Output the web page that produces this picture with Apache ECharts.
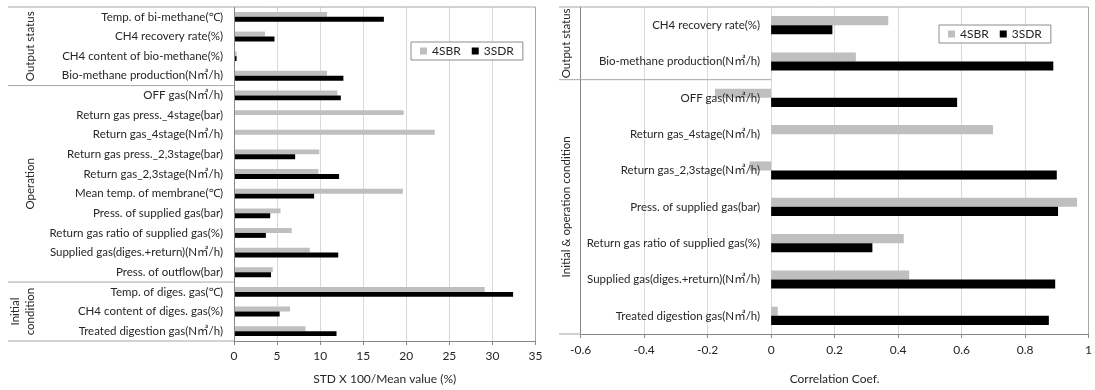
<!DOCTYPE html>
<html>
<head>
<meta charset="utf-8">
<script src="https://cdn.jsdelivr.net/npm/echarts@6/dist/echarts.min.js"></script>
<style>
html,body{margin:0;padding:0;background:#fff;}
#c{width:1095px;height:390px;}
</style>
</head>
<body>
<div id="c"></div>
<script>
// ---------- data ----------
const seriesNames = ['4SBR', '3SDR'];

const leftCats = [
  'Temp. of bi-methane(℃)',
  'CH4 recovery rate(%)',
  'CH4 content of bio-methane(%)',
  'Bio-methane production(N㎥/h)',
  'OFF gas(N㎥/h)',
  'Return gas press._4stage(bar)',
  'Return gas_4stage(N㎥/h)',
  'Return gas press._2,3stage(bar)',
  'Return gas_2,3stage(N㎥/h)',
  'Mean temp. of membrane(℃)',
  'Press. of supplied gas(bar)',
  'Return gas ratio of supplied gas(%)',
  'Supplied gas(diges.+return)(N㎥/h)',
  'Press. of outflow(bar)',
  'Temp. of diges. gas(℃)',
  'CH4 content of diges. gas(%)',
  'Treated digestion gas(N㎥/h)'
];
const leftSBR = [10.8, 3.6, 0.3, 10.8, 12.0, 19.7, 23.3, 9.9, 9.8, 19.6, 5.4, 6.7, 8.8, 4.5, 29.1, 6.5, 8.3];
const leftSDR = [17.4, 4.7, 0.3, 12.7, 12.4, 0, 0, 7.1, 12.2, 9.3, 4.2, 3.7, 12.1, 4.3, 32.4, 5.3, 11.9];
const leftGroups = [
  {text: 'Output status', from: 0, to: 3},
  {text: 'Operation', from: 4, to: 13},
  {text: 'Initial\ncondition', from: 14, to: 16}
];
const leftAxisName = 'STD X 100/Mean value (%)';

const rightCats = [
  'CH4 recovery rate(%)',
  'Bio-methane production(N㎥/h)',
  'OFF gas(N㎥/h)',
  'Return gas_4stage(N㎥/h)',
  'Return gas_2,3stage(N㎥/h)',
  'Press. of supplied gas(bar)',
  'Return gas ratio of supplied gas(%)',
  'Supplied gas(diges.+return)(N㎥/h)',
  'Treated digestion gas(N㎥/h)'
];
const rightSBR = [0.369, 0.267, -0.177, 0.699, -0.068, 0.964, 0.418, 0.435, 0.021];
const rightSDR = [0.193, 0.889, 0.586, 0, 0.900, 0.904, 0.319, 0.895, 0.875];
const rightGroups = [
  {text: 'Output status', from: 0, to: 1},
  {text: 'Initial & operation condition', from: 2, to: 8}
];
const rightAxisName = 'Correlation Coef.';

// ---------- chart ----------
const FONT = 'Lato, "Noto Sans", "Noto Sans CJK JP", sans-serif';
const TXT = '#262626';
const FRAME = '#a6a6a6';
const chart = echarts.init(document.getElementById('c'), null, {renderer: 'canvas'});

function xAxisCfg(gridIndex, min, max, interval, name, nameGap, margin) {
  return {
    type: 'value', gridIndex, min, max, interval,
    name, nameLocation: 'middle', nameGap,
    nameTextStyle: {fontFamily: FONT, fontSize: 12, color: TXT},
    axisLine: {show: true, lineStyle: {color: '#868686'}},
    axisTick: {show: true, length: 4, lineStyle: {color: '#868686'}},
    axisLabel: {fontFamily: FONT, fontSize: 12, color: TXT, margin},
    splitLine: {show: true, lineStyle: {color: '#d9d9d9'}}
  };
}
function yAxisCfg(gridIndex, data, margin) {
  return {
    type: 'category', gridIndex, data, inverse: true, z: 5,
    axisLine: {show: true, onZero: false, lineStyle: {color: '#868686'}},
    axisTick: {show: false},
    axisLabel: {fontFamily: FONT, fontSize: 11.5, color: TXT, margin, interval: 0},
    splitLine: {show: false}
  };
}
function barSeries(name, xi, data, color) {
  return {
    name, type: 'bar', xAxisIndex: xi, yAxisIndex: xi, data,
    barGap: '0%', barCategoryGap: '50%',
    itemStyle: {color}, silent: true, animation: false
  };
}
function legendCfg(left, top) {
  return {
    left, top, data: seriesNames, icon: 'rect', orient: 'horizontal',
    itemWidth: 7, itemHeight: 7, itemGap: 11,
    borderColor: '#8c8c8c', borderWidth: 1, padding: [3, 9],
    backgroundColor: '#fff',
    textStyle: {fontFamily: FONT, fontSize: 12, color: TXT}
  };
}

const option = {
  animation: false,
  backgroundColor: '#fff',
  grid: [
    {left: 234, right: 559.5, top: 7, bottom: 49},
    {left: 580.7, right: 4.5, top: 7, bottom: 54}
  ],
  xAxis: [
    xAxisCfg(0, 0, 35, 5, leftAxisName, 32, 9),
    xAxisCfg(1, -0.6, 1, 0.2, rightAxisName, 39, 10)
  ],
  yAxis: [
    yAxisCfg(0, leftCats, 11),
    yAxisCfg(1, rightCats, -179)
  ],
  legend: [legendCfg(411, 42), legendCfg(939, 25)],
  series: [
    barSeries(seriesNames[0], 0, leftSBR, '#bfbfbf'),
    barSeries(seriesNames[1], 0, leftSDR, '#000000'),
    barSeries(seriesNames[0], 1, rightSBR, '#bfbfbf'),
    barSeries(seriesNames[1], 1, rightSDR, '#000000')
  ]
};
chart.setOption(option);

// ---------- frame, separators, group labels (positions from axes) ----------
function line(x1, y1, x2, y2, color) {
  return {type: 'line', silent: true, z: 10,
    shape: {x1, y1, x2, y2}, style: {stroke: color || FRAME, lineWidth: 1}};
}
function vtext(text, x, y) {
  return {type: 'text', silent: true, z: 10, x, y, rotation: Math.PI / 2,
    style: {text, fontFamily: FONT, fontSize: 11.5, fill: TXT,
      align: 'center', verticalAlign: 'middle', lineHeight: 15}};
}
function bounds(ai, cats) {
  const c0 = chart.convertToPixel({yAxisIndex: ai}, cats[0]);
  const c1 = chart.convertToPixel({yAxisIndex: ai}, cats[1]);
  const band = c1 - c0;
  return {top: c0 - band / 2, band};
}
const g = [];
// left
{
  const xl = 8;
  const x0 = chart.convertToPixel({xAxisIndex: 0}, 0);
  const x1 = chart.convertToPixel({xAxisIndex: 0}, 35);
  const b = bounds(0, leftCats);
  const top = b.top, bot = b.top + b.band * leftCats.length;
  g.push(line(xl, top, x1, top));
  g.push(line(x1, top, x1, bot));
  g.push(line(xl, bot, x0, bot));
  leftGroups.forEach((grp, i) => {
    const yA = top + grp.from * b.band, yB = top + (grp.to + 1) * b.band;
    if (i > 0) g.push(line(xl, yA, x0, yA));
    g.push(vtext(grp.text, grp.text.indexOf('\n') >= 0 ? 23 : 30, (yA + yB) / 2));
  });
}
// right
{
  const xl = 559;
  const x0 = chart.convertToPixel({xAxisIndex: 1}, -0.6);
  const xz = chart.convertToPixel({xAxisIndex: 1}, 0);
  const x1 = chart.convertToPixel({xAxisIndex: 1}, 1);
  const b = bounds(1, rightCats);
  const top = b.top, bot = b.top + b.band * rightCats.length;
  g.push(line(xl, top, x1, top));
  g.push(line(x1, top, x1, bot));
  g.push(line(xl, bot, x0, bot));
  rightGroups.forEach((grp, i) => {
    const yA = top + grp.from * b.band, yB = top + (grp.to + 1) * b.band;
    if (i > 0) g.push(line(xl, yA, xz, yA));
    g.push(vtext(grp.text, 566, (yA + yB) / 2));
  });
  chart.setOption({yAxis: [{}, {axisLabel: {margin: -(xz - x0 - 11)}}]});
}
chart.setOption({graphic: g});
</script>
</body>
</html>
